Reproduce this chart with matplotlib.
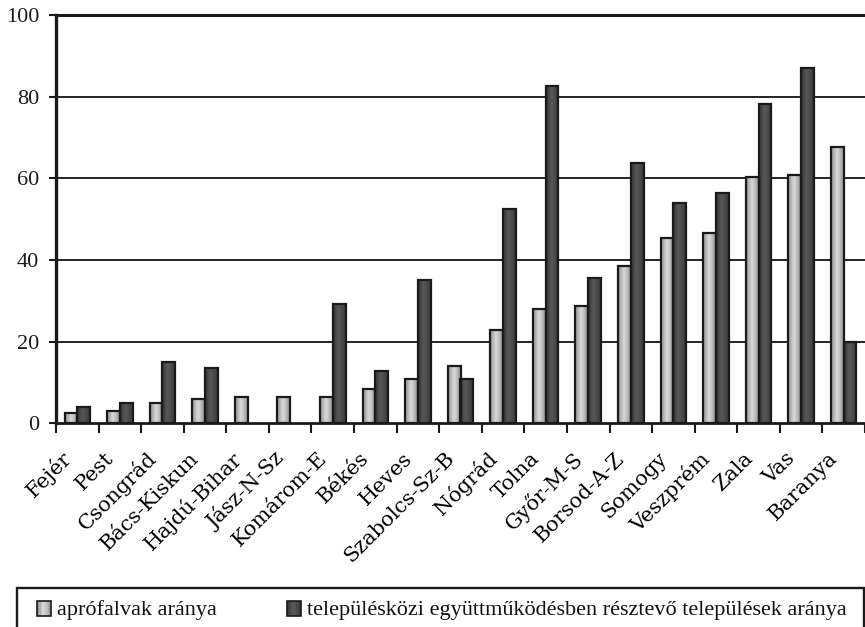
import numpy as np
import matplotlib
matplotlib.use("Agg")
import matplotlib.pyplot as plt
import matplotlib.transforms as mtransforms
from matplotlib.colors import LinearSegmentedColormap
from matplotlib.patches import Rectangle

plt.rcParams["font.family"] = ["Liberation Serif", "DejaVu Serif"]

# megyék
megyek = ["Fejér", "Pest", "Csongrád", "Bács-Kiskun", "Hajdú-Bihar", "Jász-N-Sz",
          "Komárom-E", "Békés", "Heves", "Szabolcs-Sz-B", "Nógrád", "Tolna",
          "Győr-M-S", "Borsod-A-Z", "Somogy", "Veszprém", "Zala", "Vas", "Baranya"]
aprofalvak = [2.5, 3.0, 4.9, 6.0, 6.4, 6.4, 6.4, 8.4, 10.8, 14.1, 22.9, 27.9,
              28.8, 38.5, 45.3, 46.7, 60.4, 60.8, 67.6]
egyuttmukodes = [3.9, 4.9, 15.1, 13.6, 0, 0, 29.2, 12.7, 35.1, 10.8, 52.5, 82.7,
                 35.5, 63.7, 54.0, 56.5, 78.2, 86.9, 20.0]
yticks = [0, 20, 40, 60, 80, 100]
labels = ["aprófalvak aránya",
          "településközi együttműködésben résztevő települések aránya"]

# hengeres árnyalás
cm_light = LinearSegmentedColormap.from_list(
    "light", [(0, "#929292"), (0.25, "#b8b8b8"), (0.45, "#d8d8d8"),
              (0.6, "#cacaca"), (0.82, "#ababab"), (1, "#9a9a9a")])
cm_dark = LinearSegmentedColormap.from_list(
    "dark", [(0, "#343434"), (0.4, "#575757"), (0.6, "#505050"), (1, "#383838")])
grad = np.linspace(0, 1, 64).reshape(1, -1)

W, H = 865, 627
fig = plt.figure(figsize=(W / 100, H / 100), dpi=100)
ax = fig.add_axes([56 / W, 1 - 423.3 / H, 1 - 56 / W, (423.3 - 15) / H])

x = np.arange(len(megyek))
w = 0.3
b1 = ax.bar(x - w / 2, aprofalvak, w, facecolor="none", edgecolor="#1a1a1a",
            linewidth=1.6, zorder=4)
b2 = ax.bar(x + w / 2, egyuttmukodes, w, facecolor="none", edgecolor="#1a1a1a",
            linewidth=1.6, zorder=4)
for bars, cm in ((b1, cm_light), (b2, cm_dark)):
    for r in bars:
        if r.get_height() <= 0:
            r.set_visible(False)
            continue
        x0, h = r.get_x(), r.get_height()
        im = ax.imshow(grad, cmap=cm, aspect="auto", zorder=3,
                       extent=(x0, x0 + r.get_width(), 0, h))
        im.set_clip_path(r)

ax.set_xlim(-0.5, 18.31)
ax.set_ylim(0, 100)

for v in yticks[1:-1]:
    ax.axhline(v, color="#222222", lw=1.4, zorder=1)

ax.spines["right"].set_visible(False)
ax.spines["top"].set_linewidth(2.2)
ax.spines["left"].set_linewidth(2.4)
ax.spines["bottom"].set_linewidth(2.0)
for s in ax.spines.values():
    s.set_color("#1a1a1a")

ax.set_yticks(yticks)
ax.set_yticklabels([str(v) for v in yticks], fontsize=16)
ax.tick_params(axis="y", length=5, width=1.5, pad=7, colors="#1a1a1a")

ax.set_xticks(x)
ax.set_xticklabels(megyek, fontsize=15, family="DejaVu Serif", rotation=45,
                   ha="right", va="center", rotation_mode="anchor")
ax.set_xticks(np.arange(-0.5, 19, 1), minor=True)
ax.tick_params(axis="x", which="major", length=0, pad=23)
ax.tick_params(axis="x", which="minor", length=7, width=1.5, colors="#1a1a1a")
shift = mtransforms.ScaledTranslation(-9 / 100, 0, fig.dpi_scale_trans)
for t in ax.get_xticklabels():
    t.set_transform(t.get_transform() + shift)

# jelmagyarázat keret
fig.patches.append(Rectangle((17 / W, -0.05), 847 / W, 1 - 588 / H + 0.05,
                             transform=fig.transFigure, facecolor="white",
                             edgecolor="#1a1a1a", lw=1.7))
for (hx, tx), cm, lab in zip(((37, 57), (287, 307)), (cm_light, cm_dark), labels):
    n = 8
    for i in range(n):
        fig.patches.append(Rectangle(((hx + 14 * i / n) / W, 1 - 616 / H), 14 / n / W,
                                     15 / H, transform=fig.transFigure,
                                     facecolor=cm((i + 0.5) / n), edgecolor="none"))
    fig.patches.append(Rectangle((hx / W, 1 - 616 / H), 14 / W, 15 / H,
                                 transform=fig.transFigure, facecolor="none",
                                 edgecolor="#1a1a1a", lw=1.2))
    fig.text(tx / W, 1 - 615 / H, lab, fontsize=16, va="baseline", ha="left",
             color="#111111")

fig.savefig("out.png", dpi=100, facecolor="white")
